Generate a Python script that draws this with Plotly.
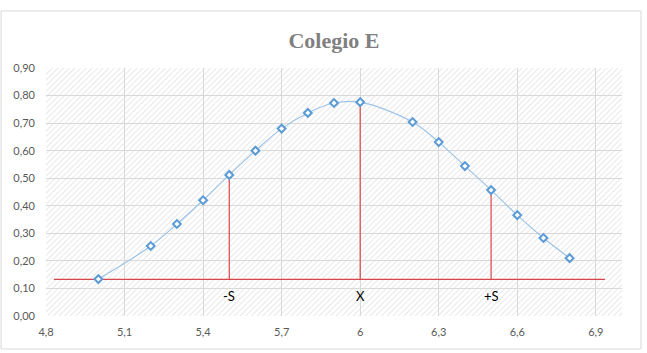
import base64
import plotly.graph_objects as go

# Data
x_vals = [5.0, 5.2, 5.3, 5.4, 5.5, 5.6, 5.7, 5.8, 5.9, 6.0, 6.2, 6.3, 6.4, 6.5, 6.6, 6.7, 6.8]
y_vals = [0.134, 0.254, 0.334, 0.42, 0.512, 0.60, 0.68, 0.737, 0.773, 0.776, 0.704, 0.631, 0.544, 0.457, 0.366, 0.283, 0.21]

base_y = 0.133
base_x = [4.83, 6.935]
marker_x = [5.5, 6.0, 6.5]
marker_top = [0.512, 0.776, 0.457]
marker_labels = ["-S", "X", "+S"]
label_y = 0.072

x_tickvals = [4.8, 5.1, 5.4, 5.7, 6.0, 6.3, 6.6, 6.9]
x_ticktext = ["4,8", "5,1", "5,4", "5,7", "6", "6,3", "6,6", "6,9"]

title_text = "Colegio E"

red = "#D9464A"
blue_line = "#9DC3E6"
blue_marker = "#5B9BD5"

fig = go.Figure()

# horizontal base line
fig.add_trace(go.Scatter(x=base_x, y=[base_y, base_y], mode="lines",
                         line=dict(color=red, width=1.2), hoverinfo="skip", showlegend=False))
# vertical lines
for xv, top in zip(marker_x, marker_top):
    fig.add_trace(go.Scatter(x=[xv, xv], y=[base_y, top], mode="lines",
                             line=dict(color=red, width=1.2), hoverinfo="skip", showlegend=False))

# main curve
fig.add_trace(go.Scatter(x=x_vals, y=y_vals, mode="lines+markers",
                         line=dict(color=blue_line, width=1.2, shape="spline"),
                         marker=dict(symbol="diamond", size=6, color="white",
                                     line=dict(color=blue_marker, width=2)),
                         showlegend=False))

# labels
for xv, t in zip(marker_x, marker_labels):
    fig.add_annotation(x=xv, y=label_y, text=t, showarrow=False,
                       font=dict(family="Lato, Open Sans, sans-serif", size=13, color="#000000"))

# hatched background image
W, H = 576, 248
svg = f'''<svg xmlns="http://www.w3.org/2000/svg" width="{W}" height="{H}" viewBox="0 0 {W} {H}">
<defs><pattern id="p" width="4" height="4" patternUnits="userSpaceOnUse" patternTransform="rotate(45)">
<rect width="4" height="4" fill="#ffffff"/><line x1="0" y1="0" x2="0" y2="4" stroke="#dcdcdc" stroke-width="1.3"/></pattern></defs>
<rect width="{W}" height="{H}" fill="url(#p)"/></svg>'''
uri = "data:image/svg+xml;base64," + base64.b64encode(svg.encode()).decode()
fig.add_layout_image(dict(source=uri, xref="paper", yref="paper", x=0, y=1,
                          sizex=1, sizey=1, xanchor="left", yanchor="top",
                          sizing="stretch", layer="below"))

# chart border
fig.add_shape(type="rect", xref="paper", yref="paper",
              x0=-0.078, x1=1.033, y0=-0.133, y1=1.23,
              line=dict(color="#d9d9d9", width=1), fillcolor="rgba(0,0,0,0)")

tick_font = dict(family="Lato, Open Sans, sans-serif", size=11, color="#595959")

fig.update_layout(
    width=647, height=353,
    margin=dict(l=46, r=25, t=68, b=37),
    paper_bgcolor="white",
    plot_bgcolor="white",
    separators=",.",
    title=dict(text=f"<b>{title_text}</b>", x=0.5, xref="paper", y=0.885, yanchor="middle",
               font=dict(family="Liberation Serif, Times New Roman, serif", size=22, color="#808080")),
    xaxis=dict(range=[4.8, 7.0], tickvals=x_tickvals, ticktext=x_ticktext,
               showgrid=True, gridcolor="#d9d9d9", gridwidth=1, zeroline=False,
               showline=False, ticks="", tickfont=tick_font, ticklabelstandoff=8),
    yaxis=dict(range=[0, 0.9], dtick=0.1, tickformat=".2f",
               showgrid=True, gridcolor="#d9d9d9", gridwidth=1, zeroline=False,
               showline=False, ticks="", tickfont=tick_font, ticklabelstandoff=10),
)

fig.write_html("out.html")
